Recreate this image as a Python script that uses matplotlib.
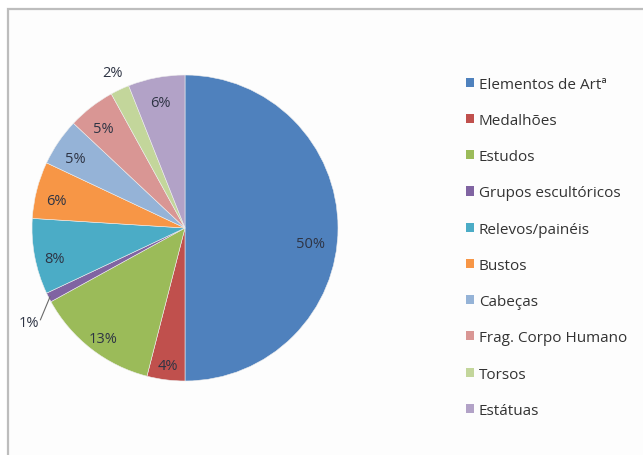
import numpy as np
import matplotlib
matplotlib.use("Agg")
import matplotlib.pyplot as plt
from matplotlib.patches import Rectangle, Patch

plt.rcParams['font.family'] = ['Open Sans', 'DejaVu Sans']

categories = ["Elementos de Artª", "Medalhões", "Estudos", "Grupos escultóricos",
              "Relevos/painéis", "Bustos", "Cabeças", "Frag. Corpo Humano",
              "Torsos", "Estátuas"]
values = [50, 4, 13, 1, 8, 6, 5, 5, 2, 6]
colors = ["#4F81BD", "#C0504D", "#9BBB59", "#8064A2", "#4BACC6",
          "#F79646", "#95B3D7", "#D99694", "#C3D69B", "#B2A2C7"]

W, H = 643, 456
fig = plt.figure(figsize=(W / 100, H / 100), dpi=100)
fig.patch.set_facecolor("white")

# chart-area frame (open to the right and bottom)
fig.patches.append(Rectangle((8 / W, -0.05), 1.0, 1 - 10 / H + 0.05,
                             transform=fig.transFigure, facecolor="#FDFDFD",
                             edgecolor="#BDBDBD", linewidth=1.6, zorder=-10))

cx, cy, r = 185, 229, 153
ax = fig.add_axes([(cx - r) / W, (H - cy - r) / H, 2 * r / W, 2 * r / H])
ax.set_zorder(1)

wedges, _, autotexts = ax.pie(values, colors=colors, startangle=90, counterclock=False,
                              radius=1.0, autopct=lambda p: f"{p:.0f}%",
                              pctdistance=0.87,
                              wedgeprops=dict(linewidth=0.4, edgecolor="#EEEEEE"),
                              textprops=dict(fontsize=10.5, color="#2E3444"))
ax.set_xlim(-1, 1)
ax.set_ylim(-1, 1)
ax.set_aspect("equal")
ax.axis("off")

# label placement: small slices outside, the rest slightly below the radial point
for w, t, v in zip(wedges, autotexts, values):
    ang = np.deg2rad((w.theta1 + w.theta2) / 2)
    d = np.array([np.cos(ang), np.sin(ang)])
    t.set_clip_on(False)
    if v == 2:
        t.set_position(1.12 * d)
    elif v == 1:
        t.set_position((-0.955, -0.615))
        t.set_ha("right")
        ax.plot([d[0] * 0.99, -0.945], [d[1] * 0.99, -0.6], color="#6A6A6A", lw=0.8,
                clip_on=False)
    elif v == 50:
        t.set_position((0.82, -0.1))
    else:
        x, y = t.get_position()
        t.set_position((x, y - 0.035))

handles = [Patch(facecolor=c, edgecolor="none") for c in colors]
fig.legend(handles, categories, loc="upper left", bbox_to_anchor=(458 / W, 1 - 70 / H),
           frameon=False, fontsize=11, handlelength=0.55, handleheight=0.55,
           handletextpad=0.3, labelspacing=1.39, borderpad=0, labelcolor="#333333")

fig.savefig("out.png", dpi=100)
